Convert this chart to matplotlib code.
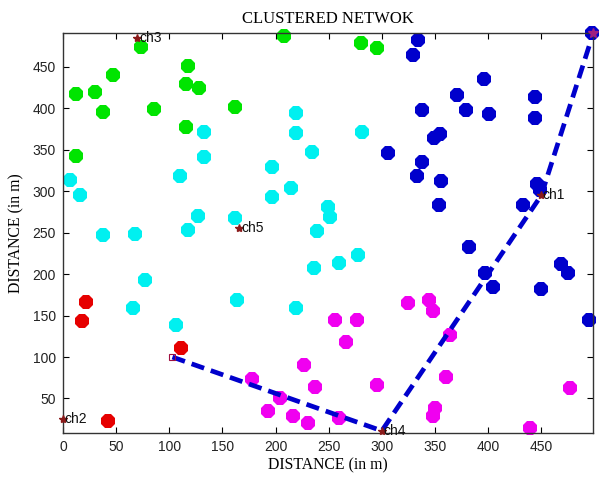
import numpy as np
import matplotlib
matplotlib.use('Agg')
import matplotlib.pyplot as plt

###Clustered network plot
#Nodes per cluster (metres).

green_x = [12, 30, 38, 47, 73, 86, 118, 116, 128, 116, 162, 12, 208, 280, 295]
green_y = [417, 420, 396, 440, 474, 399, 451, 429, 425, 378, 402, 342, 487, 479, 473]

cyan_x = [7, 16, 110, 133, 133, 127, 118, 162, 38, 68, 77, 66, 106, 164, 219,
          197, 197, 215, 219, 219, 234, 281, 249, 251, 239, 236, 260, 278]
cyan_y = [314, 296, 319, 372, 341, 270, 253, 268, 247, 248, 193, 159, 139, 169, 159,
          329, 293, 304, 370, 394, 348, 372, 281, 269, 252, 207, 214, 223]

blue_x = [334, 329, 396, 371, 379, 401, 444, 444, 338, 355, 349, 306, 338, 333,
          356, 354, 433, 446, 449, 382, 397, 405, 450, 469, 475, 495, 498]
blue_y = [482, 465, 435, 416, 398, 393, 414, 388, 398, 369, 364, 346, 335, 319,
          313, 283, 284, 309, 302, 233, 202, 185, 182, 212, 201, 145, 491]

magenta_x = [178, 204, 193, 216, 227, 237, 231, 260, 256, 277, 266, 295, 325, 344,
             348, 364, 360, 350, 348, 439, 477]
magenta_y = [74, 50, 35, 29, 90, 64, 20, 26, 145, 145, 118, 66, 165, 169,
             155, 127, 76, 39, 29, 15, 63]

red_x = [22, 18, 111, 42]
red_y = [166, 144, 111, 23]

#Cluster heads
ch_names = ['ch1', 'ch2', 'ch3', 'ch4', 'ch5']
ch_x = [450, 0, 70, 300, 166]
ch_y = [295, 25, 485, 11, 256]

#Route to the sink (top right corner)
route_x = [103, 300, 450, 499]
route_y = [100, 11, 295, 491]

xticks = [0, 50, 100, 150, 200, 250, 300, 350, 400, 450]
yticks = [50, 100, 150, 200, 250, 300, 350, 400, 450]

fig = plt.figure(figsize=(6.01, 4.79), dpi=100)
ax = fig.add_axes([0.1048, 0.0954, 0.8824, 0.8357])

ms = 11
for xs, ys, col in [(green_x, green_y, '#00e400'),
                    (cyan_x, cyan_y, '#00f0f0'),
                    (blue_x, blue_y, '#0000cc'),
                    (magenta_x, magenta_y, '#f000f0'),
                    (red_x, red_y, '#e60000')]:
    ax.plot(xs, ys, '8', color=col, markersize=ms, markeredgewidth=0, clip_on=False, zorder=2)

#dashed route line on top of the nodes
ax.plot(route_x, route_y, '--', color='#0000cc', linewidth=3.4, dashes=(2.8, 1.5), zorder=3)
ax.plot(route_x[0], route_y[0], 's', markerfacecolor='none', markeredgecolor='#a01040',
        markersize=5, markeredgewidth=0.8, zorder=4)
ax.plot(route_x[-1], route_y[-1], '*', color='#a02080', markersize=7, clip_on=False, zorder=4)

#cluster heads and their labels
ax.plot(ch_x, ch_y, '*', color='#8b1a1a', markersize=6, clip_on=False, zorder=4)
for name, cx, cy in zip(ch_names, ch_x, ch_y):
    ax.text(cx + 1.5, cy, name, ha='left', va='center', fontsize=10,
            family='Liberation Sans', color='#111111', zorder=5)

ax.set_xlim(0, 499)
ax.set_ylim(8, 491)
ax.set_xticks(xticks)
ax.set_yticks(yticks)
ax.tick_params(direction='in', length=4, top=True, right=True, labelsize=10,
               labelcolor='#222222', pad=5, width=0.8)
for lab in ax.get_xticklabels() + ax.get_yticklabels():
    lab.set_family('Liberation Sans')
for s in ax.spines.values():
    s.set_color('#333333')
    s.set_linewidth(1.0)

ax.set_title('CLUSTERED NETWOK', family='Liberation Serif', fontsize=12, pad=7)
ax.set_xlabel('DISTANCE (in m)', family='Liberation Serif', fontsize=11.3, labelpad=2)
ax.set_ylabel('DISTANCE (in m)', family='Liberation Serif', fontsize=11.3, labelpad=6)

fig.savefig('out.png', dpi=100)
